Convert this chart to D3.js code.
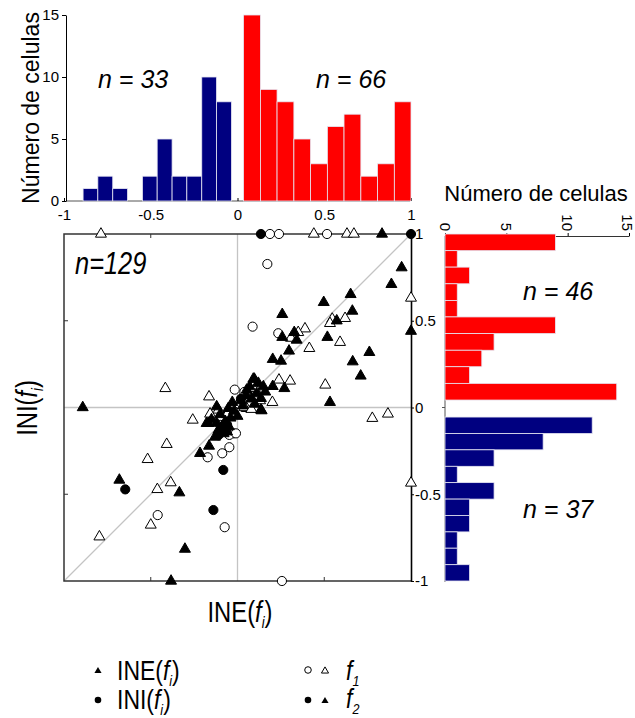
<!DOCTYPE html>
<html>
<head>
<meta charset="utf-8">
<script src="https://cdn.jsdelivr.net/npm/d3@7"></script>
<style>
  body { margin: 0; background: #fff; }
  text { font-family: "Liberation Sans", Arial, sans-serif; fill: #000; }
</style>
</head>
<body>
<div id="chart"></div>
<script>
// ---- data ----
const axisTicks = [-1, -0.5, 0, 0.5, 1]
const countTicks = [0, 5, 10, 15]

// top histogram (INE)
const topBlueEdges = [-0.89, -0.805, -0.719, -0.634, -0.548, -0.463, -0.377, -0.292, -0.206, -0.121, -0.035]
const topBlueCounts = [1, 2, 1, 0, 2, 5, 2, 2, 10, 8]
const topRedEdges = [0.035, 0.132, 0.228, 0.325, 0.421, 0.518, 0.614, 0.711, 0.807, 0.904, 1.0]
const topRedCounts = [15, 9, 8, 5, 3, 6, 7, 2, 3, 8]

// side histogram (INI), listed top to bottom
const sideRedEdges = [1.0, 0.904, 0.809, 0.713, 0.617, 0.522, 0.426, 0.330, 0.235, 0.139, 0.043]
const sideRedCounts = [9, 1, 2, 1, 1, 9, 4, 3, 2, 14]
const sideBlueEdges = [-0.055, -0.150, -0.244, -0.339, -0.433, -0.528, -0.622, -0.717, -0.811, -0.906, -1.0]
const sideBlueCounts = [12, 8, 4, 1, 4, 2, 2, 1, 1, 2]

// scatter: [INE, INI]
const ineF1 = [ // open triangles
  [-0.787, 1], [0.44, 1], [0.631, 1], [0.671, 1], [1, 0.631], [1, -0.435],
  [-0.416, 0.11], [-0.164, 0.062], [-0.258, -0.072], [0.546, 0.51], [0.533, 0.485],
  [0.62, 0.514], [0.389, 0.454], [0.35, 0.433], [0.308, 0.40], [0.591, 0.376],
  [0.414, 0.341], [0.239, 0.159], [0.303, 0.153], [0.506, 0.13], [0.201, 0.03],
  [0.777, -0.062], [0.867, -0.037], [-0.408, -0.212], [-0.518, -0.299], [-0.462, -0.472],
  [-0.385, -0.433], [-0.5, -0.677], [-0.796, -0.745], [-0.158, -0.037], [-0.11, -0.014],
  [0.053, -0.005], [0.04, 0.0], [0.08, -0.01], [0.03, 0.07], [0.1, 0.11], [-0.06, -0.04],
  [0.13, 0.04]
]
const iniF1 = [ // open circles
  [0.187, 1], [0.239, 1], [0.516, 1], [0.256, -1], [0.087, 0.466], [-0.016, 0.103],
  [0.172, 0.827], [0.235, 0.428], [-0.46, -0.62], [-0.074, -0.69], [-0.088, -0.264],
  [-0.047, -0.229], [-0.172, -0.287], [-0.024, -0.149], [-0.047, -0.158], [0.04, 0.09],
  [0.07, 0.06], [-0.009, -0.149], [-0.1, -0.1], [0.01, 0.02]
]
const ineF2 = [ // filled triangles
  [0.833, 1], [1, 0.44], [-0.383, -1], [-0.892, 0.0], [0.946, 0.806], [0.887, 0.71],
  [0.652, 0.652], [0.497, 0.606], [0.662, 0.556], [0.258, 0.537], [0.572, 0.50],
  [0.327, 0.433], [0.258, 0.405], [0.341, 0.389], [0.518, 0.405], [0.297, 0.326],
  [0.76, 0.318], [0.203, 0.278], [0.251, 0.268], [0.664, 0.264], [0.71, 0.182],
  [0.091, 0.164], [0.27, 0.11], [0.203, 0.122], [0.149, 0.12], [0.533, 0.03],
  [0.139, -0.018], [-0.681, -0.418], [-0.335, -0.491], [-0.303, -0.816], [-0.216, -0.264],
  [-0.164, -0.222], [-0.168, -0.091], [-0.12, 0.005], [0.097, 0.164], [0.053, 0.101],
  [0.135, 0.053], [0.135, -0.014], [-0.053, -0.005], [-0.178, -0.091],
  [0.02, 0.04], [0.05, 0.07], [0.08, 0.05], [0.11, 0.08], [0.07, 0.12], [0.12, 0.14],
  [0.03, 0.01], [-0.02, -0.02], [-0.04, -0.06], [-0.07, -0.08], [-0.09, -0.11],
  [-0.11, -0.13], [-0.08, -0.15], [-0.13, -0.17], [-0.05, -0.11], [-0.1, -0.04],
  [-0.15, -0.07], [0.1, 0.02], [0.16, 0.09], [-0.03, 0.03], [-0.06, -0.14],
  [-0.12, -0.09], [0.0, -0.05]
]
const iniF2 = [ // filled circles
  [0.135, 1], [1, 1], [-0.647, -0.472], [-0.139, -0.591], [-0.082, -0.36],
  [-0.06, -0.1], [0.02, 0.05], [-0.11, -0.16]
]

const BLUE = '#000080'
const RED = '#ff0000'
const GRID = '#c4c4c4'

const svg = d3.select('#chart').append('svg')
    .attr('width', 635)
    .attr('height', 718)

// shared scales (scatter square)
const x = d3.scaleLinear().domain([-1, 1]).range([64, 411])
const y = d3.scaleLinear().domain([-1, 1]).range([581, 234])

const bins = (edges, counts) => counts.map((c, i) => ({ a: edges[i], b: edges[i + 1], n: c }))

// ---------- top histogram ----------
const yTop = d3.scaleLinear().domain([0, 15]).range([201, 15])

const topX = svg.append('g')
    .attr('transform', 'translate(0,201)')
    .call(d3.axisBottom(x).tickValues(axisTicks).tickSize(-3).tickSizeOuter(0).tickPadding(8).tickFormat(d => d))
topX.select('.domain').attr('stroke', '#555').attr('d', 'M66,0H410')
topX.selectAll('text').attr('font-size', 15).attr('font-family', '"Liberation Sans", Arial, sans-serif')

const topY = svg.append('g')
    .attr('transform', 'translate(66,0)')
    .call(d3.axisLeft(yTop).tickValues(countTicks).tickSize(4).tickSizeOuter(0).tickPadding(3))
topY.selectAll('text').attr('font-size', 15).attr('font-family', '"Liberation Sans", Arial, sans-serif')

const drawTop = (data, color) => {
  svg.append('g').selectAll('rect')
    .data(data.filter(d => d.n > 0))
    .enter().append('rect')
      .attr('x', d => x(d.a))
      .attr('width', d => x(d.b) - x(d.a))
      .attr('y', d => yTop(d.n))
      .attr('height', d => yTop(0) - yTop(d.n))
      .attr('fill', color)
      .attr('stroke', '#e6e6f2')
      .attr('stroke-width', 0.8)
}
drawTop(bins(topBlueEdges, topBlueCounts), BLUE)
drawTop(bins(topRedEdges, topRedCounts), RED)

svg.append('text')
    .attr('transform', 'translate(39,108) rotate(-90)')
    .attr('text-anchor', 'middle')
    .attr('font-size', 23)
    .text('Número de celulas')

svg.append('text').attr('x', 98).attr('y', 88).attr('font-size', 25).attr('font-style', 'italic').text('n = 33')
svg.append('text').attr('x', 316).attr('y', 88).attr('font-size', 25).attr('font-style', 'italic').text('n = 66')

// ---------- side histogram ----------
const xSide = d3.scaleLinear().domain([0, 15]).range([445, 629])

const sideAx = svg.append('g')
    .attr('transform', 'translate(0,236)')
    .call(d3.axisTop(xSide).tickValues(countTicks).tickSize(3).tickSizeOuter(0).tickFormat(''))
sideAx.select('.domain').attr('stroke', '#333')

svg.append('g').selectAll('text')
  .data(countTicks)
  .enter().append('text')
    .attr('transform', d => `translate(${ Math.min(xSide(d), 627) },231) rotate(90)`)
    .attr('text-anchor', 'end')
    .attr('dy', '0.35em')
    .attr('font-size', 15)
    .text(d => d)

svg.append('line')
    .attr('x1', 445).attr('x2', 445).attr('y1', 236).attr('y2', 582)
    .attr('stroke', '#555')
svg.append('line')
    .attr('x1', 442).attr('x2', 445).attr('y1', y(0)).attr('y2', y(0))
    .attr('stroke', '#555')

const drawSide = (data, color) => {
  svg.append('g').selectAll('rect')
    .data(data.filter(d => d.n > 0))
    .enter().append('rect')
      .attr('x', xSide(0))
      .attr('width', d => xSide(d.n) - xSide(0))
      .attr('y', d => y(d.a))
      .attr('height', d => y(d.b) - y(d.a))
      .attr('fill', color)
      .attr('stroke', '#e6e6f2')
      .attr('stroke-width', 0.8)
}
drawSide(bins(sideRedEdges, sideRedCounts), RED)
drawSide(bins(sideBlueEdges, sideBlueCounts), BLUE)

svg.append('text').attr('x', 536).attr('y', 201).attr('text-anchor', 'middle').attr('font-size', 22).text('Número de celulas')
svg.append('text').attr('x', 523).attr('y', 300).attr('font-size', 25).attr('font-style', 'italic').text('n = 46')
svg.append('text').attr('x', 523).attr('y', 518).attr('font-size', 25).attr('font-style', 'italic').text('n = 37')

// ---------- scatter ----------
const sc = svg.append('g')

// reference lines
sc.append('line').attr('x1', x(0)).attr('x2', x(0)).attr('y1', y(1)).attr('y2', y(-1)).attr('stroke', GRID).attr('stroke-width', 1.3)
sc.append('line').attr('x1', x(-1)).attr('x2', x(1)).attr('y1', y(0)).attr('y2', y(0)).attr('stroke', GRID).attr('stroke-width', 1.3)
sc.append('line').attr('x1', x(-1)).attr('x2', x(1)).attr('y1', y(-1)).attr('y2', y(1)).attr('stroke', GRID).attr('stroke-width', 1.3)

// frame (left, top, bottom)
sc.append('path')
    .attr('d', `M${ x(1) },${ y(1) }H${ x(-1) }V${ y(-1) }H${ x(1) }`)
    .attr('fill', 'none').attr('stroke', '#333').attr('stroke-width', 1.5)

// small inward ticks at +-0.5
;[-0.5, 0.5].forEach(v => {
  sc.append('line').attr('x1', x(-1)).attr('x2', x(-1) + 4).attr('y1', y(v)).attr('y2', y(v)).attr('stroke', '#333')
  sc.append('line').attr('x1', x(v)).attr('x2', x(v)).attr('y1', y(1)).attr('y2', y(1) + 4).attr('stroke', '#333')
  sc.append('line').attr('x1', x(v)).attr('x2', x(v)).attr('y1', y(-1)).attr('y2', y(-1) - 4).attr('stroke', '#333')
})

// right axis with labels
const rAx = sc.append('g')
    .attr('transform', `translate(${ x(1) },0)`)
    .call(d3.axisRight(y).tickValues(axisTicks).tickSize(3).tickSizeOuter(0).tickPadding(1).tickFormat(d => d))
rAx.select('.domain').attr('stroke', '#000').attr('stroke-width', 1.6)
rAx.selectAll('text').attr('font-size', 15).attr('font-family', '"Liberation Sans", Arial, sans-serif')

const tri = d3.symbol().type(d3.symbolTriangle).size(52)
const circ = d3.symbol().type(d3.symbolCircle).size(66)

const drawPts = (data, sym, filled) => {
  sc.append('g').selectAll('path')
    .data(data)
    .enter().append('path')
      .attr('d', sym)
      .attr('transform', d => `translate(${ x(d[0]) },${ y(d[1]) })`)
      .attr('fill', filled ? '#000' : '#fff')
      .attr('stroke', '#000')
      .attr('stroke-width', 1)
}
drawPts(ineF1, tri, false)
drawPts(iniF1, circ, false)
drawPts(ineF2, tri, true)
drawPts(iniF2, circ, true)

sc.append('text')
    .attr('transform', 'translate(75,274) scale(0.82,1)')
    .attr('font-size', 31).attr('font-style', 'italic')
    .text('n=129')

// labels with f subscript, slightly condensed
const fLabel = (tf, size, pre, sub, post, anchor) => {
  const t = svg.append('text')
      .attr('transform', tf)
      .attr('font-size', size)
      .attr('text-anchor', anchor || 'start')
  if (pre) t.append('tspan').text(pre)
  t.append('tspan').attr('font-style', 'italic').text('f')
  t.append('tspan').attr('font-style', 'italic').attr('font-size', size * 0.55).attr('dy', size * 0.22).text(sub)
  if (post) t.append('tspan').attr('dy', -size * 0.22).text(post)
  return t
}

fLabel('translate(240,622) scale(0.82,1)', 29, 'INE(', 'i', ')', 'middle')
fLabel('translate(37,408) rotate(-90) scale(0.82,1)', 29, 'INI(', 'i', ')', 'middle')

// ---------- legend ----------
const lg = svg.append('g')
const smallTri = d3.symbol().type(d3.symbolTriangle).size(22)
const smallCirc = d3.symbol().type(d3.symbolCircle).size(34)

lg.append('path').attr('d', smallTri).attr('transform', 'translate(98,671)').attr('fill', '#000')
lg.append('path').attr('d', smallCirc).attr('transform', 'translate(98,700)').attr('fill', '#000')
lg.append('path').attr('d', smallCirc).attr('transform', 'translate(308,670)').attr('fill', '#fff').attr('stroke', '#000')
lg.append('path').attr('d', smallTri).attr('transform', 'translate(325,671)').attr('fill', '#fff').attr('stroke', '#000')
lg.append('path').attr('d', smallCirc).attr('transform', 'translate(308,700)').attr('fill', '#000')
lg.append('path').attr('d', smallTri).attr('transform', 'translate(325,701)').attr('fill', '#000')

fLabel('translate(117,680) scale(0.82,1)', 28, 'INE(', 'i', ')')
fLabel('translate(117,709) scale(0.82,1)', 28, 'INI(', 'i', ')')
fLabel('translate(346,680) scale(0.82,1)', 28, '', '1', '')
fLabel('translate(346,708) scale(0.82,1)', 28, '', '2', '')
</script>
</body>
</html>
